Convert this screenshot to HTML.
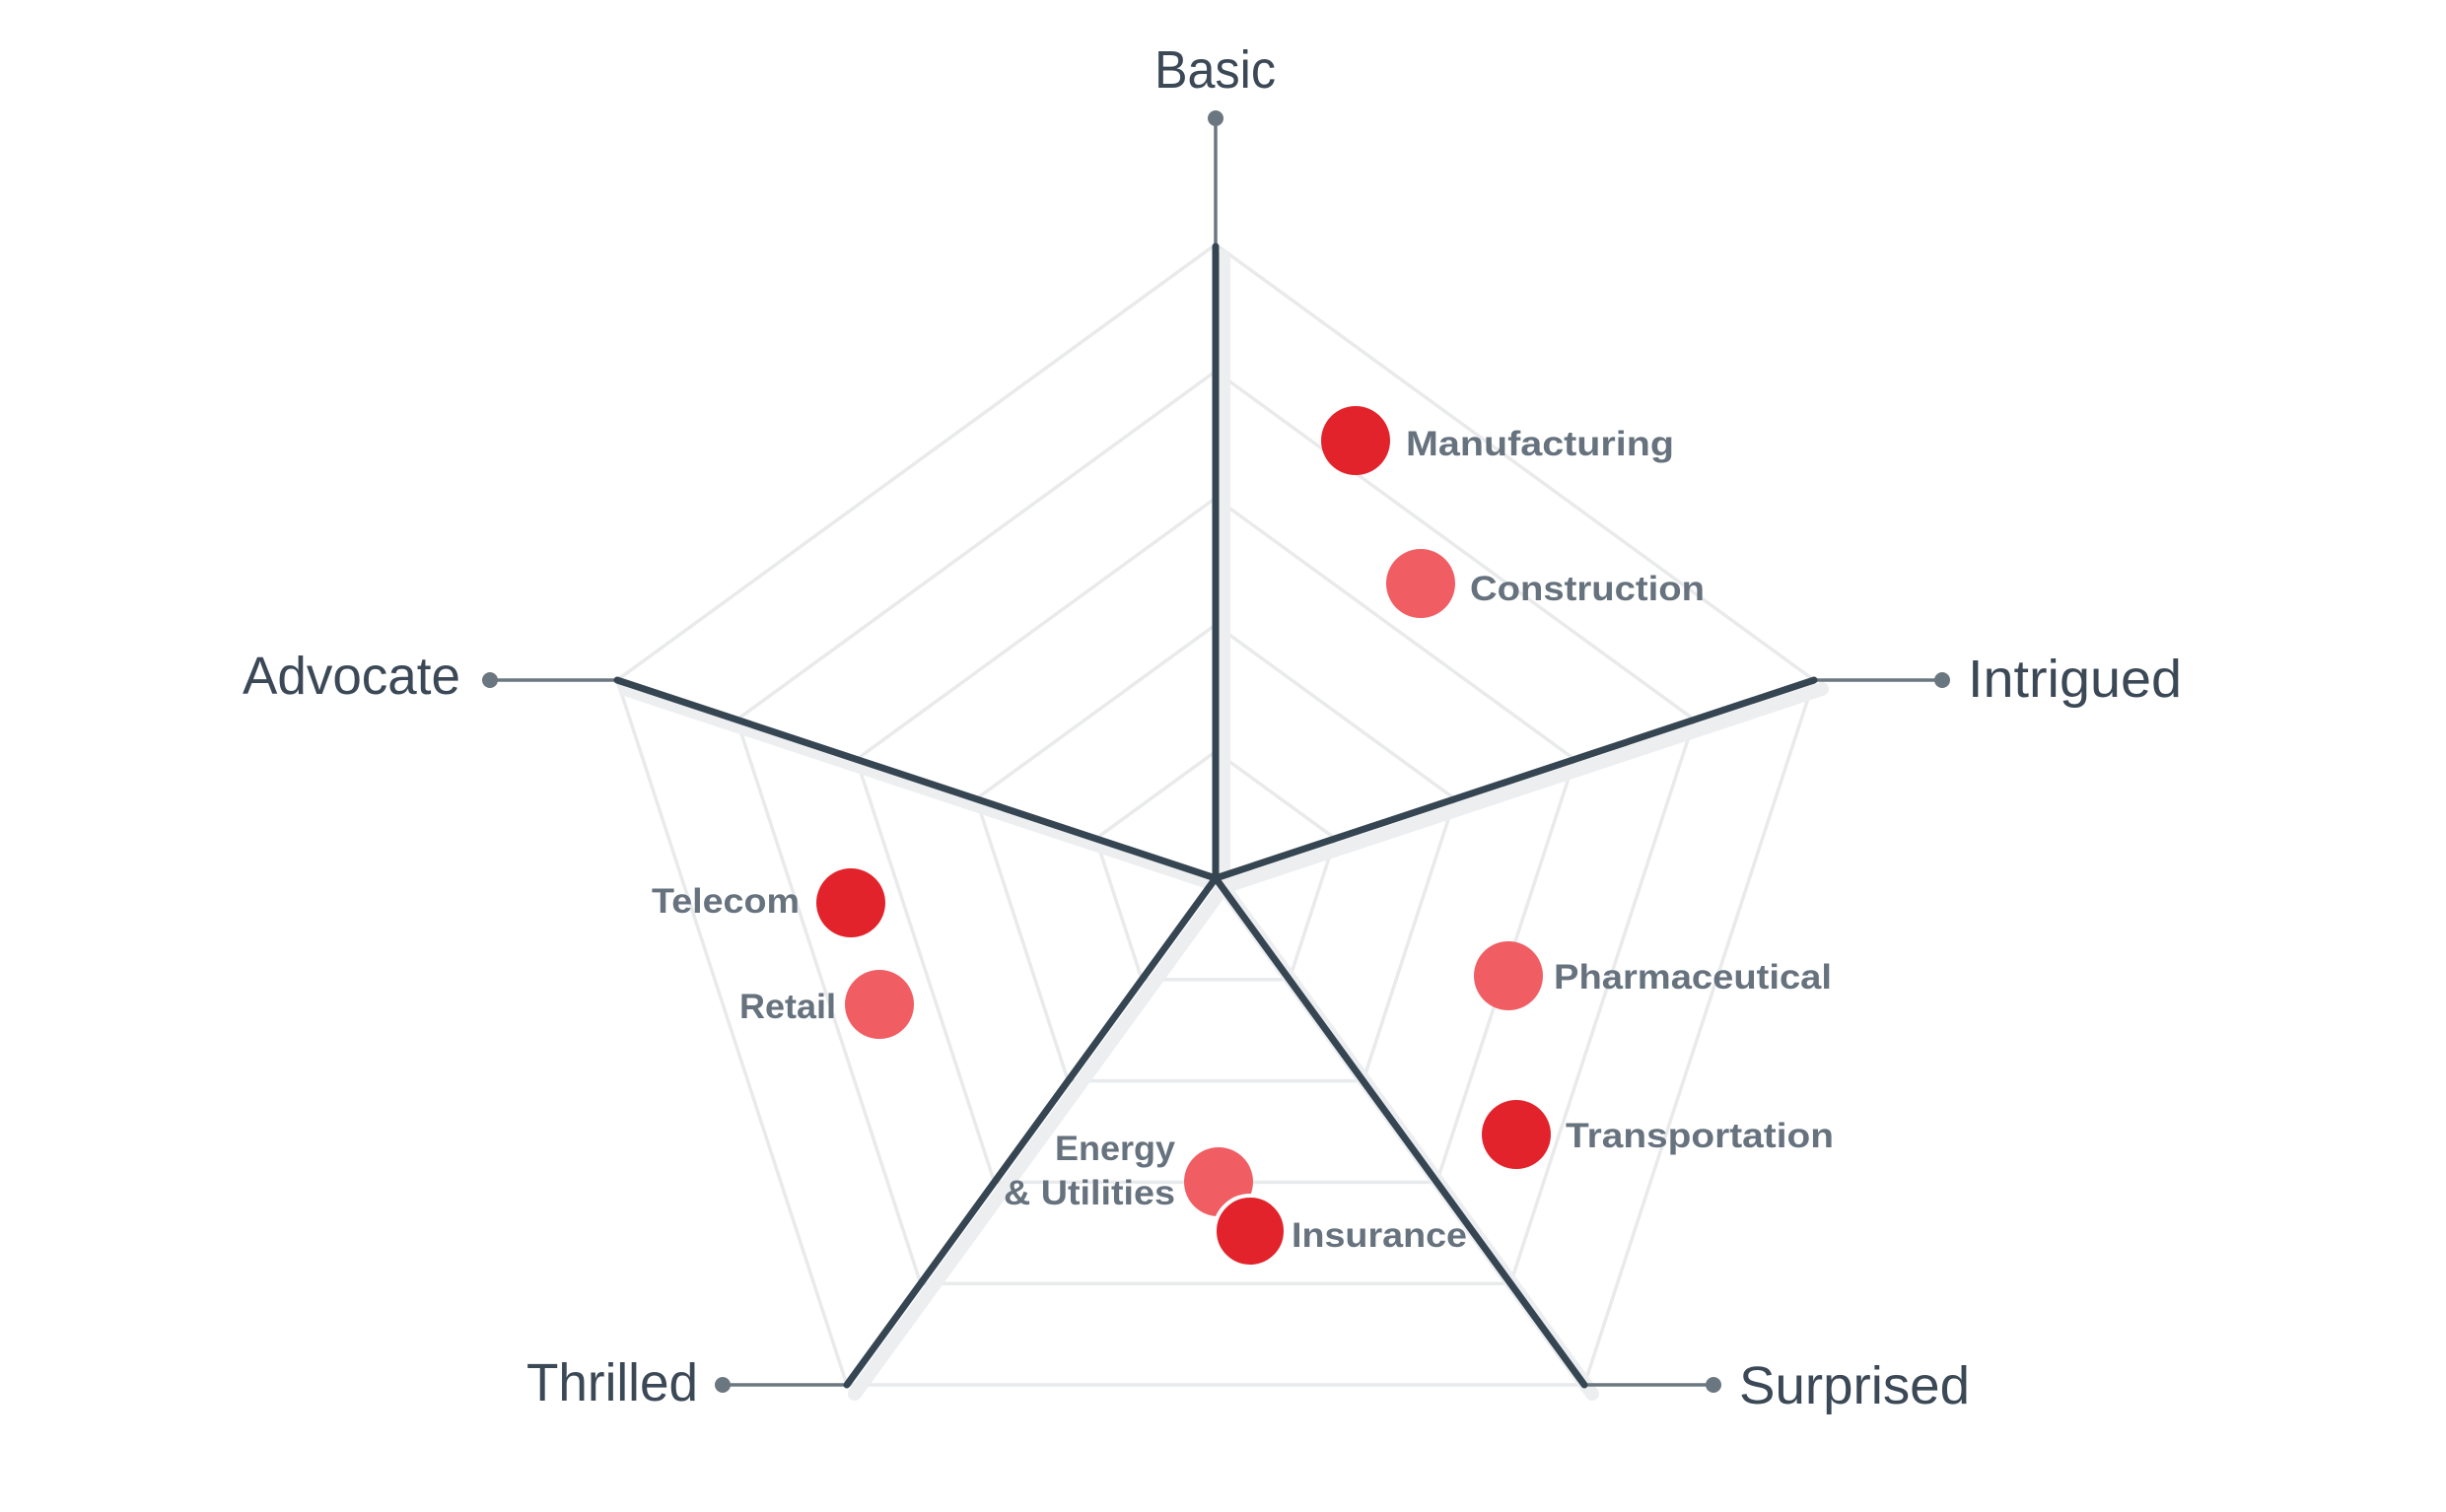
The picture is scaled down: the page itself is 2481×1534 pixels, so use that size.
<!DOCTYPE html>
<html><head><meta charset="utf-8"><style>
html,body{margin:0;padding:0;background:#fff;}
svg{display:block;}
</style></head><body>
<svg width="2481" height="1534" viewBox="0 0 2481 1534" xmlns="http://www.w3.org/2000/svg">
<g fill="none" stroke="#e9eaeb" stroke-width="3.5">
<polygon points="1233,762.4 1354.4,850.8 1307.8,993.8 1158.2,993.8 1111.6,850.8"/>
<polygon points="1233,633.8 1475.8,810.6 1382.6,1096.6 1083.4,1096.6 990.2,810.6"/>
<polygon points="1233,505.2 1597.2,770.4 1457.4,1199.4 1008.6,1199.4 868.8,770.4"/>
<polygon points="1233,376.6 1718.6,730.2 1532.2,1302.2 933.8,1302.2 747.4,730.2"/>
<polygon points="1233,248 1840,690 1607,1405 859,1405 626,690"/>
</g>
<g stroke="#eceef0" stroke-width="14" stroke-linecap="round" transform="translate(8,9)">
<line x1="1233" y1="891" x2="1233" y2="252"/>
<line x1="1233" y1="891" x2="1840" y2="690"/>
<line x1="1233" y1="891" x2="1607" y2="1405"/>
<line x1="1233" y1="891" x2="859" y2="1405"/>
<line x1="1233" y1="891" x2="626" y2="690"/>
</g>
<g stroke="#6b7780" stroke-width="3.5">
<line x1="1233" y1="120" x2="1233" y2="250"/>
<line x1="1840" y1="690" x2="1970" y2="690"/>
<line x1="1607" y1="1405" x2="1738" y2="1405"/>
<line x1="859" y1="1405" x2="733" y2="1405"/>
<line x1="626" y1="690" x2="497" y2="690"/>
</g>
<g fill="#6b7780">
<circle cx="1233" cy="120" r="8"/><circle cx="1970" cy="690" r="8"/>
<circle cx="1738" cy="1405" r="8"/><circle cx="733" cy="1405" r="8"/>
<circle cx="497" cy="690" r="8"/>
</g>
<g stroke="#364552" stroke-width="7" stroke-linecap="round">
<line x1="1233" y1="891" x2="1233" y2="250"/>
<line x1="1233" y1="891" x2="1840" y2="690"/>
<line x1="1233" y1="891" x2="1607" y2="1405"/>
<line x1="1233" y1="891" x2="859" y2="1405"/>
<line x1="1233" y1="891" x2="626" y2="690"/>
</g>
<g font-family="Liberation Sans, sans-serif" font-size="54" fill="#3b4856" font-weight="300">
<text x="1171" y="89" textLength="123" lengthAdjust="spacingAndGlyphs">Basic</text>
<text x="246" y="704" textLength="221" lengthAdjust="spacingAndGlyphs">Advocate</text>
<text x="1996" y="707" textLength="217" lengthAdjust="spacingAndGlyphs">Intrigued</text>
<text x="534" y="1421" textLength="174" lengthAdjust="spacingAndGlyphs">Thrilled</text>
<text x="1764" y="1424" textLength="234" lengthAdjust="spacingAndGlyphs">Surprised</text>
</g>
<circle cx="1375" cy="447" r="35" fill="#e2232b"/>
<circle cx="1441" cy="592" r="35" fill="#f05d63"/>
<circle cx="863" cy="916" r="35" fill="#e2232b"/>
<circle cx="892" cy="1019" r="35" fill="#f05d63"/>
<circle cx="1530" cy="990" r="35" fill="#f05d63"/>
<circle cx="1538" cy="1151" r="35" fill="#e2232b"/>
<circle cx="1236" cy="1199" r="35" fill="#f05d63"/>
<circle cx="1268" cy="1249" r="36" fill="#e2232b" stroke="#fff" stroke-width="4"/>
<g font-family="Liberation Sans, sans-serif" font-size="35" fill="#66727d" font-weight="bold">
<text x="1426" y="462" textLength="272" lengthAdjust="spacingAndGlyphs">Manufacturing</text>
<text x="1491" y="609" textLength="238" lengthAdjust="spacingAndGlyphs">Construction</text>
<text x="811" y="926" text-anchor="end" textLength="150" lengthAdjust="spacingAndGlyphs">Telecom</text>
<text x="848" y="1033" text-anchor="end" textLength="98" lengthAdjust="spacingAndGlyphs">Retail</text>
<text x="1192" y="1177" text-anchor="end" textLength="122" lengthAdjust="spacingAndGlyphs">Energy</text>
<text x="1192" y="1222" text-anchor="end" textLength="174" lengthAdjust="spacingAndGlyphs">&amp; Utilities</text>
<text x="1310" y="1265" textLength="178" lengthAdjust="spacingAndGlyphs">Insurance</text>
<text x="1576" y="1003" textLength="282" lengthAdjust="spacingAndGlyphs">Pharmaceutical</text>
<text x="1588" y="1164" textLength="272" lengthAdjust="spacingAndGlyphs">Transportation</text>
</g>
</svg>
</body></html>
